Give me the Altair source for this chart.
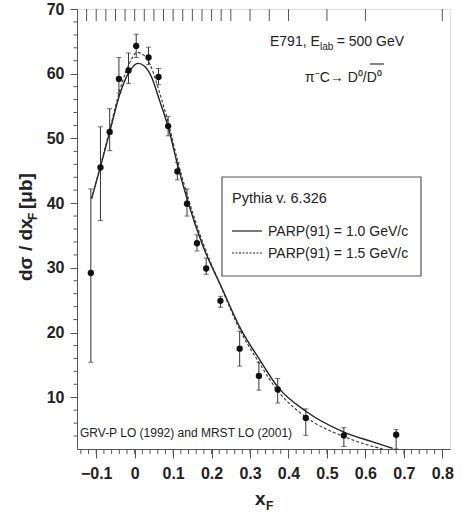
import altair as alt
import pandas as pd

# ---------------- data ----------------
xf = [-0.114, -0.089, -0.065, -0.041, -0.016, 0.004, 0.036, 0.062, 0.087, 0.111,
      0.136, 0.162, 0.186, 0.223, 0.273, 0.323, 0.372, 0.445, 0.544, 0.680]
sig = [29.2, 45.5, 51.0, 59.2, 60.5, 64.3, 62.5, 59.5, 51.9, 44.9,
       39.9, 33.8, 29.9, 24.9, 17.5, 13.3, 11.2, 6.8, 4.1, 4.2]
err_hi = [42.2, 51.8, 54.6, 62.5, 63.2, 66.1, 64.1, 60.8, 53.4, 46.3,
          42.2, 35.1, 31.5, 25.6, 20.2, 15.4, 12.9, 8.2, 5.3, 5.0]
err_lo = [15.4, 37.3, 48.1, 57.0, 58.5, 62.5, 61.4, 58.3, 50.4, 43.6,
          38.0, 32.6, 29.0, 23.9, 14.8, 11.1, 9.1, 4.1, 2.4, 2.0]

curve1_x = [-0.112, -0.089, -0.065, -0.039, -0.015, 0.009, 0.025, 0.043, 0.065, 0.087,
            0.112, 0.138, 0.178, 0.225, 0.277, 0.325, 0.372, 0.446, 0.541, 0.619, 0.671]
curve1_y = [40.7, 45.6, 51.0, 56.8, 60.2, 61.6, 61.2, 59.6, 55.8, 51.8,
            45.8, 40.3, 33.3, 27.1, 20.4, 15.8, 11.6, 7.8, 4.7, 3.1, 2.1]
curve2_x = [-0.112, -0.089, -0.065, -0.039, -0.015, 0.006, 0.025, 0.043, 0.065, 0.087,
            0.112, 0.138, 0.178, 0.225, 0.277, 0.325, 0.372, 0.446, 0.541, 0.619, 0.645]
curve2_y = [40.7, 45.8, 51.3, 57.4, 61.4, 63.3, 62.8, 61.0, 57.0, 52.5,
            46.5, 41.0, 33.8, 27.0, 20.0, 15.2, 11.0, 6.9, 4.0, 2.4, 2.0]

x_major = [-0.1, 0, 0.1, 0.2, 0.3, 0.4, 0.5, 0.6, 0.7, 0.8]
x_minor = [round(-0.14 + 0.02 * i, 2) for i in range(48)]
x_top = [-0.125, -0.1, -0.075, -0.05, -0.025, 0, 0.025, 0.05, 0.075, 0.1, 0.125,
         0.15, 0.175, 0.2, 0.225, 0.25, 0.3, 0.35, 0.4, 0.5, 0.6, 0.8]
y_major = [10, 20, 30, 40, 50, 60, 70]
y_minor = [v for v in range(4, 70, 2) if v % 10 != 0]

XDOM = [-0.15, 0.82]
YDOM = [2, 70]
W, H = 373, 440

FN = "Liberation Sans, Arial, sans-serif"
INK = "#222222"
AX = "#555555"

pts = pd.DataFrame({"x": xf, "y": sig, "lo": err_lo, "hi": err_hi})
caps = pd.DataFrame({"x": xf + xf, "y": err_hi + err_lo})
c1 = pd.DataFrame({"x": curve1_x, "y": curve1_y})
c2 = pd.DataFrame({"x": curve2_x, "y": curve2_y})

xs = alt.Scale(domain=XDOM, nice=False, zero=False)
ys = alt.Scale(domain=YDOM, nice=False, zero=False)

x_axis = alt.Axis(values=x_major, tickSize=9, labelPadding=7, grid=False,
                  labelFont=FN, labelFontSize=16, labelFontWeight="bold",
                  labelColor=INK, domainColor=AX, tickColor=AX,
                  format=".1~f", labelFlush=False, title=None)
y_axis = alt.Axis(values=y_major, tickSize=7, labelPadding=6, grid=False,
                  labelFont=FN, labelFontSize=16, labelFontWeight="bold",
                  labelColor=INK, domainColor=AX, tickColor=AX, title=None)


def X(field="x"):
    return alt.X(f"{field}:Q", scale=xs, axis=x_axis, title=None)


def Y(field="y"):
    return alt.Y(f"{field}:Q", scale=ys, axis=y_axis, title=None)


base = alt.Chart(pts)

err = base.mark_rule(color="#333333", strokeWidth=1).encode(
    x=X(), y=Y("lo"), y2="hi:Q")
cap = alt.Chart(caps).mark_tick(orient="horizontal", color="#333333",
                                thickness=1, size=5).encode(x=X(), y=Y())
dots = base.mark_point(filled=True, color="#111111", size=40, opacity=1,
                       shape="circle").encode(x=X(), y=Y())
line1 = alt.Chart(c1).mark_line(color="#222222", strokeWidth=1.4,
                                interpolate="monotone").encode(x=X(), y=Y())
line2 = alt.Chart(c2).mark_line(color="#333333", strokeWidth=1.1,
                                strokeDash=[3, 2],
                                interpolate="monotone").encode(x=X(), y=Y())

minor_x = alt.Chart(pd.DataFrame({"x": x_minor})).mark_rule(
    color=AX, strokeWidth=1).encode(x=X(), y=alt.value(H), y2=alt.value(H + 5))
top_x = alt.Chart(pd.DataFrame({"x": x_top})).mark_rule(
    color=AX, strokeWidth=1).encode(x=X(), y=alt.value(0), y2=alt.value(12))
minor_y = alt.Chart(pd.DataFrame({"y": y_minor})).mark_rule(
    color=AX, strokeWidth=1).encode(y=Y(), x=alt.value(-3.5), x2=alt.value(0))

ONE = alt.Data(values=[{"a": 1}])


def txt(s, x, y, size, weight="normal", angle=0, align="left"):
    kw = dict(text=s, align=align, baseline="alphabetic", font=FN,
              fontSize=size, fontWeight=weight, color=INK)
    if angle:
        kw["angle"] = angle
    return alt.Chart(ONE).mark_text(**kw).encode(x=alt.value(x), y=alt.value(y))


def rule(x1, x2, y1, y2, dash=None, w=1.2, color=INK):
    kw = dict(color=color, strokeWidth=w)
    if dash:
        kw["strokeDash"] = dash
    return alt.Chart(ONE).mark_rule(**kw).encode(
        x=alt.value(x1), x2=alt.value(x2), y=alt.value(y1), y2=alt.value(y2))


legend_box = alt.Chart(ONE).mark_rect(fill="white", stroke="#555555",
                                      strokeWidth=1.2).encode(
    x=alt.value(145), x2=alt.value(344), y=alt.value(168), y2=alt.value(267))

annots = [
    txt("E791, E", 193, 37, 14),
    txt("lab", 243, 41, 10),
    txt("= 500 GeV", 327, 37, 14, align="right"),
    txt("\u03c0\u207bC\u2192 D\u2070/D\u2070", 228, 73, 14),
    rule(293, 307, 55, 55, w=1.1),
    legend_box,
    txt("Pythia v. 6.326", 155, 194, 14.5),
    rule(155, 185, 222, 222),
    txt("PARP(91) = 1.0 GeV/c", 191, 227, 14),
    rule(155, 185, 244, 244, dash=[2, 1.5], w=1),
    txt("PARP(91) = 1.5 GeV/c", 191, 249, 14),
    txt("GRV-P LO (1992) and MRST LO (2001)", 3, 428, 12),
    txt("x", 178, 496, 19, weight="bold"),
    txt("F", 189, 501, 12, weight="bold"),
    txt("d\u03c3 / dx", -45, 272, 19, weight="bold", angle=270),
    txt("F", -40, 211, 12, weight="bold", angle=270),
    txt("[\u03bcb]", -45, 200, 19, weight="bold", angle=270),
]

chart = alt.layer(
    err, cap, line1, line2, dots, minor_x, top_x, minor_y, *annots
).properties(
    width=W, height=H,
    autosize=alt.AutoSizeParams(type="none"),
    padding={"left": 77, "top": 9, "right": 13, "bottom": 63},
).configure_view(stroke=AX, strokeWidth=1.2).configure(background="white")

chart.save("out.html", embed_options={"renderer": "svg", "actions": False})
